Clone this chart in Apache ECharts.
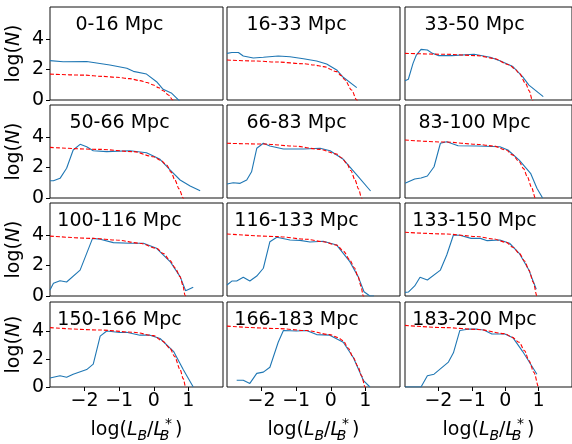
<!DOCTYPE html>
<html><head><meta charset="utf-8">
<script src="https://cdn.jsdelivr.net/npm/echarts@6/dist/echarts.min.js"></script>
<style>html,body{margin:0;padding:0;background:#fff}#c{width:572px;height:444px}</style>
</head><body><div id="c"></div>
<script>
// ---- data ----
const panelLabels = ['0-16 Mpc','16-33 Mpc','33-50 Mpc','50-66 Mpc','66-83 Mpc','83-100 Mpc',
  '100-116 Mpc','116-133 Mpc','133-150 Mpc','150-166 Mpc','166-183 Mpc','183-200 Mpc'];
const xTicks = [-2, -1, 0, 1];
const yTicks = [0, 2, 4];

const blue1 = [[-3,2.58],[-2.62,2.51],[-1.94,2.53],[-1.27,2.30],[-0.78,2.08],[-0.59,1.88],[-0.21,1.70],[0.08,1.20],[0.27,0.70],[0.52,0.44],[0.76,-0.1]];
const red1  = [[-3,1.70],[-2,1.63],[-1.5,1.55],[-1.07,1.49],[-0.7,1.40],[-0.4,1.27],[-0.2,1.15],[-0.01,0.98],[0.15,0.80],[0.27,0.61],[0.42,0.33],[0.55,0],[0.62,-0.3]];
const blue2 = [[-3,3.06],[-2.86,3.12],[-2.67,3.12],[-2.53,2.89],[-2.24,2.75],[-1.95,2.80],[-1.52,2.89],[-1.18,2.84],[-0.79,2.71],[-0.41,2.56],[-0.12,2.36],[0.17,1.97],[0.36,1.49],[0.75,0.81]];
const red2  = [[-3,2.62],[-2.2,2.56],[-1.56,2.49],[-0.79,2.38],[-0.5,2.30],[-0.21,2.19],[0.17,1.86],[0.3,1.6],[0.41,1.31],[0.6,0.66],[0.75,0],[0.8,-0.3]];
const blue3 = [[-3,1.27],[-2.9,1.36],[-2.76,2.40],[-2.66,2.95],[-2.52,3.32],[-2.33,3.28],[-2.18,3.06],[-1.99,2.91],[-1.6,2.91],[-0.93,3.0],[-0.45,2.80],[-0.16,2.58],[0.23,2.19],[0.52,1.53],[0.71,0.98],[1.14,0.22]];
const red3  = [[-3,3.06],[-1.8,3.0],[-0.83,2.91],[-0.35,2.73],[0.13,2.30],[0.28,2.05],[0.42,1.75],[0.61,1.09],[0.72,0.6],[0.81,0],[0.86,-0.3]];
const blue4 = [[-3,1.13],[-2.9,1.13],[-2.71,1.29],[-2.52,1.95],[-2.33,3.15],[-2.13,3.52],[-1.94,3.36],[-1.75,3.10],[-1.36,3.04],[-0.69,3.10],[-0.21,2.97],[0.18,2.54],[0.47,1.84],[0.76,1.18],[1.05,0.79],[1.34,0.48]];
const red4  = [[-3,3.32],[-1.55,3.19],[-0.59,3.04],[-0.01,2.71],[0.2,2.47],[0.37,2.16],[0.5,1.7],[0.61,1.18],[0.73,0.6],[0.85,0],[0.9,-0.3]];
const blue5 = [[-3,0.92],[-2.82,1.0],[-2.62,0.96],[-2.43,1.18],[-2.29,1.72],[-2.14,3.26],[-1.95,3.59],[-1.76,3.41],[-1.37,3.21],[-0.79,3.21],[-0.31,3.26],[-0.02,3.10],[0.36,2.54],[0.75,1.51],[1.15,0.46]];
const red5  = [[-3,3.59],[-1.95,3.54],[-1.08,3.41],[-0.31,3.19],[0.17,2.89],[0.32,2.62],[0.46,2.27],[0.58,1.8],[0.7,1.18],[0.8,0.6],[0.89,0],[0.94,-0.3]];
const blue6 = [[-3,0.96],[-2.71,1.25],[-2.52,1.31],[-2.33,1.44],[-2.13,2.05],[-1.94,3.59],[-1.75,3.69],[-1.41,3.43],[-0.83,3.41],[-0.16,3.36],[0.08,3.15],[0.42,2.49],[0.76,1.62],[0.95,0.64],[1.12,0]];
const red6  = [[-3,3.80],[-1.79,3.67],[-0.83,3.52],[-0.35,3.41],[0.03,3.15],[0.22,2.83],[0.42,2.38],[0.55,1.93],[0.66,1.40],[0.79,0.7],[0.9,0],[0.95,-0.3]];
const blue7 = [[-3,0.39],[-2.9,0.83],[-2.71,1.0],[-2.52,0.92],[-2.13,1.70],[-1.77,3.78],[-1.55,3.72],[-1.17,3.50],[-0.69,3.46],[-0.3,3.46],[0.08,3.13],[0.47,2.26],[0.76,1.27],[0.92,0.35],[1.14,0.57]];
const red7  = [[-3,3.93],[-1.75,3.78],[-1.08,3.67],[-0.4,3.46],[0.08,3.13],[0.28,2.78],[0.47,2.32],[0.62,1.83],[0.76,1.27],[0.84,0.7],[0.9,0.07],[0.95,-0.3]];
const blue8 = [[-3,0.72],[-2.86,0.98],[-2.72,0.98],[-2.53,1.23],[-2.34,0.98],[-2.14,1.31],[-1.95,1.82],[-1.76,3.56],[-1.56,3.85],[-1.18,3.67],[-0.89,3.65],[-0.6,3.54],[-0.22,3.59],[0.17,3.34],[0.55,2.25],[0.79,1.27],[0.96,0.28],[1.13,0],[1.25,0]];
const red8  = [[-3,4.07],[-1.56,3.90],[-0.7,3.72],[-0.22,3.56],[0.17,3.34],[0.37,2.93],[0.55,2.36],[0.68,1.85],[0.79,1.27],[0.87,0.65],[0.94,0],[0.99,-0.3]];
const blue9 = [[-3,0.24],[-2.9,0.26],[-2.71,0.66],[-2.55,1.23],[-2.33,1.05],[-1.94,1.70],[-1.75,2.69],[-1.55,4.0],[-1.36,3.98],[-1.02,3.78],[-0.74,3.78],[-0.54,3.63],[-0.16,3.67],[0.13,3.46],[0.42,2.80],[0.71,1.70],[0.93,0.44]];
const red9  = [[-3,4.18],[-1.8,4.07],[-0.83,3.90],[-0.35,3.74],[0.03,3.52],[0.23,3.2],[0.42,2.80],[0.58,2.3],[0.71,1.70],[0.84,0.9],[0.95,0],[1.0,-0.3]];
const blue10 = [[-3,0.64],[-2.71,0.81],[-2.52,0.70],[-2.33,0.92],[-1.94,1.25],[-1.75,1.64],[-1.55,3.65],[-1.36,4.02],[-0.98,3.91],[-0.79,3.93],[-0.4,3.72],[-0.11,3.72],[0.18,3.48],[0.57,2.56],[0.85,1.25],[1.14,0]];
const red10  = [[-3,4.26],[-1.55,4.09],[-0.59,3.93],[-0.01,3.69],[0.25,3.3],[0.47,2.77],[0.6,2.2],[0.76,1.25],[0.85,0.6],[0.92,0],[0.97,-0.3]];
const blue11 = [[-2.72,0.48],[-2.53,0.48],[-2.34,0.26],[-2.14,0.98],[-1.95,1.07],[-1.76,1.42],[-1.52,3.21],[-1.37,4.05],[-0.99,4.02],[-0.7,4.05],[-0.41,3.76],[-0.03,3.72],[0.36,3.21],[0.65,2.12],[0.94,0.48],[1.13,0]];
const red11  = [[-3,4.37],[-1.56,4.20],[-0.7,4.05],[-0.03,3.76],[0.2,3.55],[0.36,3.32],[0.5,2.8],[0.65,2.12],[0.78,1.5],[0.89,0.81],[0.99,0],[1.04,-0.3]];
const blue12 = [[-3,0],[-2.52,0],[-2.33,0.81],[-2.13,0.92],[-1.7,1.79],[-1.55,2.45],[-1.36,4.05],[-1.12,4.15],[-0.83,4.15],[-0.64,4.09],[-0.4,3.80],[-0.01,3.80],[0.23,3.54],[0.52,2.56],[0.95,0.92]];
const red12  = [[-3,4.42],[-1.79,4.26],[-0.83,4.13],[-0.01,3.83],[0.2,3.58],[0.42,3.21],[0.58,2.6],[0.71,1.90],[0.86,1.05],[1.0,0],[1.05,-0.3]];

const blues = [blue1,blue2,blue3,blue4,blue5,blue6,blue7,blue8,blue9,blue10,blue11,blue12];
const reds  = [red1,red2,red3,red4,red5,red6,red7,red8,red9,red10,red11,red12];

// ---- layout ----
const FONT = 'DejaVu Sans';
const FS = 19;
const colLeft = [50, 227, 405];
const rowTop = [7, 105, 203, 302];
const W = 173, H = 93;
const fmt = v => (v < 0 ? '\u2212' + (-v) : String(v));

const grids = [], xAxes = [], yAxes = [], series = [], graphics = [];
for (let i = 0; i < 12; i++) {
  const r = Math.floor(i / 3), c = i % 3;
  const bottomRow = r === 3, leftCol = c === 0;
  grids.push({left: colLeft[c], top: rowTop[r], width: W, height: H, show: true,
    borderColor: '#111', borderWidth: 1, backgroundColor: 'rgba(0,0,0,0)'});
  xAxes.push({gridIndex: i, type: 'value', min: -3, max: 2, interval: 1,
    axisLine: {show: false, onZero: false}, splitLine: {show: false},
    axisTick: {show: bottomRow, customValues: xTicks, length: 4, lineStyle: {color: '#000', width: 1}},
    axisLabel: {show: bottomRow, customValues: xTicks, formatter: fmt, color: '#000',
      fontSize: FS, fontFamily: FONT, margin: 5},
    name: bottomRow ? 'log({i|L}{sub|B}/{i|L}{subz|B}{sup|*})' : '',
    nameLocation: 'middle', nameGap: 30,
    nameTextStyle: {color: '#000', fontSize: FS, fontFamily: FONT, lineHeight: 26,
      rich: {i: {fontSize: FS, fontFamily: FONT, fontStyle: 'italic', color: '#000'},
             sub: {fontSize: 14, fontFamily: FONT, fontStyle: 'italic', color: '#000', verticalAlign: 'bottom', padding: [8,0,0,0]},
             subz: {fontSize: 14, fontFamily: FONT, fontStyle: 'italic', color: '#000', verticalAlign: 'bottom', padding: [8,0,0,0], width: 1, overflow: 'none'},
             sup: {fontSize: 14, fontFamily: FONT, color: '#000', verticalAlign: 'top', padding: [0,3,8,0]}}}
  });
  yAxes.push({gridIndex: i, type: 'value', min: 0, max: 6.1, interval: 2,
    axisLine: {show: false, onZero: false}, splitLine: {show: false},
    axisTick: {show: leftCol, customValues: yTicks, length: 4, lineStyle: {color: '#000', width: 1}},
    axisLabel: {show: leftCol, customValues: yTicks, formatter: fmt, color: '#000',
      fontSize: FS, fontFamily: FONT, margin: 6},
    name: leftCol ? 'log({i|N})' : '',
    nameLocation: 'middle', nameGap: 26,
    nameTextStyle: {color: '#000', fontSize: FS, fontFamily: FONT,
      rich: {i: {fontSize: FS, fontFamily: FONT, fontStyle: 'italic', color: '#000'}}}
  });
  series.push({type: 'line', xAxisIndex: i, yAxisIndex: i, data: blues[i], showSymbol: false,
    symbol: 'none', clip: true, lineStyle: {color: '#1f77b4', width: 1.1}, z: 2});
  series.push({type: 'line', xAxisIndex: i, yAxisIndex: i, data: reds[i], showSymbol: false,
    symbol: 'none', clip: true, smooth: 0.3, smoothMonotone: 'x',
    lineStyle: {color: '#ff0000', width: 1.1, type: [4, 2]}, z: 3});
  graphics.push({type: 'text', x: colLeft[c] + 69.5, y: rowTop[r] + 18, z: 10,
    style: {text: panelLabels[i], fill: '#000', font: FS + 'px "DejaVu Sans"', align: 'center', verticalAlign: 'middle'}});
}

const chart = echarts.init(document.getElementById('c'), null, {renderer: 'canvas'});
chart.setOption({animation: false, backgroundColor: '#fff', grid: grids, xAxis: xAxes, yAxis: yAxes,
  series: series, graphic: graphics});
</script></body></html>
